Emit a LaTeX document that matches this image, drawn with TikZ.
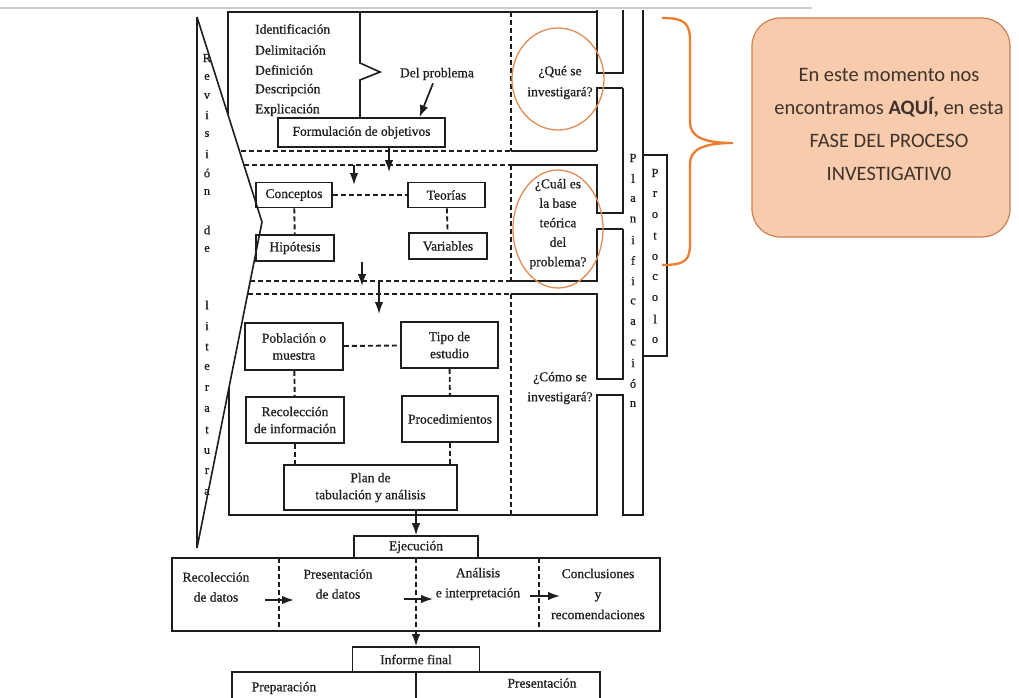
\documentclass[tikz,border=0pt]{standalone}
\usepackage{fontspec}
\setmainfont{Liberation Serif}[BoldFont={Liberation Serif},BoldFeatures={FakeBold=0.7}]
\newfontfamily\calloutfont{Carlito}
\usetikzlibrary{arrows.meta,shapes.geometric}
\definecolor{orng}{RGB}{237,125,49}
\definecolor{ringc}{RGB}{228,140,85}
\definecolor{peach}{RGB}{248,203,173}
\definecolor{peachline}{RGB}{205,128,80}
\definecolor{ink}{RGB}{30,30,30}
\definecolor{calltext}{RGB}{62,50,44}
\begin{document}
\begin{tikzpicture}[x=1pt,y=-1pt,
  ln/.style={draw=ink,line width=1.6pt},
  dsh/.style={draw=ink,line width=1.9pt,dash pattern=on 5pt off 3pt},
  arr/.style={draw=ink,line width=1.7pt,-{Latex[length=12pt,width=8.5pt]}},
  txt/.style={font=\bfseries\fontsize{13.5}{17}\selectfont,text=ink,inner sep=0pt,align=center},
  bx/.style={txt,draw=ink,line width=1.6pt},
  vl/.style={font=\bfseries\fontsize{12.5}{12}\selectfont,text=ink,inner sep=0pt},
  ring/.style={draw=ringc,line width=1.3pt,ellipse,inner sep=0pt}]
\path[fill=white,use as bounding box] (0,0) rectangle (1019,697);
\draw[gray!40,line width=1.5pt] (0,8) -- (812,8);

% Revision de literatura triangle
\draw[ln] (197,17) -- (197,548);
\draw[ln] (197,17) -- (262,222) -- (197,548);
\foreach \c/\yy [count=\i] in {R/58,e/77,v/96,i/115,s/134,i/154,ó/173,n/192,d/230,e/249,l/305,i/326,t/347,e/367,r/388,a/409,t/430,u/451,r/471,a/492}
  {\node[vl] (rv\i) at (207,\yy) {\c};}

% top section
\draw[ln] (228,115) -- (228,12) -- (597,12);
\draw[dsh] (241,151) -- (511,151);
\draw[ln] (511,151) -- (597,151);
\draw[dsh] (511,12) -- (511,151);
\draw[ln] (597,10) -- (597,73) -- (623,73) -- (623,10);
\draw[ln] (597,151) -- (597,88) -- (623,88);
\draw[ln] (360,12) -- (360,63) -- (380,72) -- (360,80) -- (360,118);

% middle section
\draw[dsh] (244,165) -- (511,165);
\draw[ln] (511,165) -- (597,165) -- (597,213) -- (623,213) -- (623,88);
\draw[dsh] (250,281) -- (511,281);
\draw[ln] (511,281) -- (597,281) -- (597,229) -- (623,229);
\draw[dsh] (511,165) -- (511,281);

% bottom section
\draw[dsh] (248,294) -- (511,294);
\draw[ln] (511,294) -- (597,294) -- (597,379) -- (623,379) -- (623,229);
\draw[ln] (229,387) -- (229,515) -- (597,515) -- (597,395) -- (623,395) -- (623,515) -- (643,515) -- (643,10);
\draw[dsh] (511,294) -- (511,515);

% Protocolo box
\draw[ln] (643,155) -- (667,155) -- (667,356) -- (643,356);
\foreach \c/\yy [count=\i] in {P/158,l/178.5,a/199,n/219.5,i/240,f/260.5,i/281,c/301.5,a/322,c/342.5,i/363,ó/383.5,n/404}
  {\node[vl] (pl\i) at (633,\yy) {\c};}
\foreach \c/\yy [count=\i] in {P/173,r/194,o/215,t/236,o/257,c/277,o/298,l/319,o/340}
  {\node[vl] (pr\i) at (655,\yy) {\c};}

% top section texts
\node[txt,anchor=west] (t1) at (255,29) {Identificación};
\node[txt,anchor=west] (t2) at (255,50) {Delimitación};
\node[txt,anchor=west] (t3) at (255,70) {Definición};
\node[txt,anchor=west] (t4) at (255,90) {Descripción};
\node[txt,anchor=west] (t5) at (255,110) {Explicación};
\node[txt] (delp) at (437,74) {Del problema};
\node[bx,minimum width=167pt,minimum height=29pt] (form) at (361.5,132.5) {Formulación de objetivos};
\draw[arr] ([xshift=-4pt,yshift=-3pt]delp.south) -- ([xshift=58pt]form.north);
\coordinate (a0e) at (389,172);
\draw[arr] ([xshift=27.5pt]form.south) -- (a0e);

% middle section boxes
\node[bx,minimum width=76pt,minimum height=25pt] (conc) at (294,195) {Conceptos};
\node[bx,minimum width=77pt,minimum height=25pt] (teor) at (446.5,195) {Teorías};
\node[bx,minimum width=78pt,minimum height=26pt] (hipo) at (295,248) {Hipótesis};
\node[bx,minimum width=78pt,minimum height=26pt] (vari) at (448,246) {Variables};
\draw[dsh] (conc) -- (teor);
\draw[dsh] (conc) -- (hipo);
\draw[dsh] (teor) -- (vari);
\coordinate (a1s) at (354,165); \coordinate (a1e) at (354,185);
\draw[arr] (a1s) -- (a1e);
\coordinate (a2s) at (362,262); \coordinate (a2e) at (362,286);
\draw[arr] (a2s) -- (a2e);
\coordinate (a3s) at (379,281); \coordinate (a3e) at (379,314);
\draw[arr] (a3s) -- (a3e);

% bottom section boxes
\node[bx,minimum width=98pt,minimum height=47pt] (pobl) at (294,346.5) {Población o\\muestra};
\node[bx,minimum width=97pt,minimum height=46pt] (tipo) at (449.5,345) {Tipo de\\estudio};
\node[bx,minimum width=98pt,minimum height=46pt] (reco) at (295,420) {Recolección\\de información};
\node[bx,minimum width=96pt,minimum height=46pt] (proc) at (450,419) {Procedimientos};
\node[bx,minimum width=173pt,minimum height=45pt] (plan) at (370.5,487.5) {Plan de\\tabulación y análisis};
\draw[dsh] (pobl) -- (tipo);
\draw[dsh] (pobl) -- (reco);
\draw[dsh] (tipo) -- (proc);
\draw[dsh] (reco.south) -- (reco.south |- plan.north);
\draw[dsh] (proc.south) -- (proc.south |- plan.north);

% right column texts and rings
\node[ring,minimum width=92pt,minimum height=102pt] (c1) at (558,79) {};
\node[ring,minimum width=90pt,minimum height=118pt] (c2) at (558,229) {};
\node[txt,font=\bfseries\fontsize{13.5}{21}\selectfont] (q1) at (560,82.5) {¿Qué se\\investigará?};
\node[txt,font=\bfseries\fontsize{13.5}{19.5}\selectfont] (q2) at (558,224) {¿Cuál es\\la base\\teórica\\del\\problema?};
\node[txt,font=\bfseries\fontsize{13.5}{20}\selectfont] (q3) at (560,388) {¿Cómo se\\investigará?};

% orange brace
\draw[orng,line width=2.3pt] (662,18) .. controls (686,18) and (690,24) .. (690,42) -- (690,122) .. controls (690,136) and (702,143) .. (733,143) .. controls (702,143) and (690,150) .. (690,164) -- (690,243) .. controls (690,260) and (686,265) .. (662,265);

% callout
\node[draw=peachline,fill=peach,rounded corners=28pt,line width=1.2pt,minimum width=258pt,minimum height=219pt,inner sep=0pt] (call) at (881,127.5) {};
\node[font=\calloutfont\fontsize{20.5}{32.7}\selectfont,align=center,text=calltext,inner sep=0pt] (calltxt) at (889,124.5) {En este momento nos\\encontramos \textbf{AQUÍ,} en esta\\FASE DEL PROCESO\\INVESTIGATIV0};

% Ejecucion
\node[bx,minimum width=124pt,minimum height=22pt] (ejec) at (416,547) {Ejecución};
\draw[arr] ([xshift=45.5pt]plan.south) -- (ejec.north);
\draw[ln] (172,558) rectangle (660,631);
\draw[dsh] (279,558) -- (279,631);
\draw[dsh] (416,558) -- (416,631);
\draw[dsh] (539,558) -- (539,631);
\node[txt,font=\bfseries\fontsize{13.5}{20}\selectfont] (r1) at (216,587) {Recolección\\de datos};
\node[txt,font=\bfseries\fontsize{13.5}{20}\selectfont] (r2) at (338,584) {Presentación\\de datos};
\node[txt,font=\bfseries\fontsize{13.5}{20}\selectfont] (r3) at (478,584) {Análisis\\e interpretación};
\node[txt,font=\bfseries\fontsize{13.5}{20.5}\selectfont] (r4) at (598,594) {Conclusiones\\y\\recomendaciones};
\coordinate (b1s) at (265,600); \coordinate (b1e) at (294,600);
\coordinate (b2s) at (404,599); \coordinate (b2e) at (433,599);
\coordinate (b3s) at (530,596); \coordinate (b3e) at (560,596);
\draw[arr] (b1s) -- (b1e);
\draw[arr] (b2s) -- (b2e);
\draw[arr] (b3s) -- (b3e);

% Informe final
\node[bx,minimum width=127pt,minimum height=25pt] (inf) at (416,659.5) {Informe final};
\coordinate (rowd) at (416,631);
\draw[arr] (rowd) -- (inf.north);
\draw[ln] (232,699) -- (232,672) -- (600,672) -- (600,699);
\draw[ln] (416,672) -- (416,699);
\node[txt] (prep) at (284,688) {Preparación};
\node[txt] (pres) at (542,683) {Presentación};
\end{tikzpicture}
\end{document}
